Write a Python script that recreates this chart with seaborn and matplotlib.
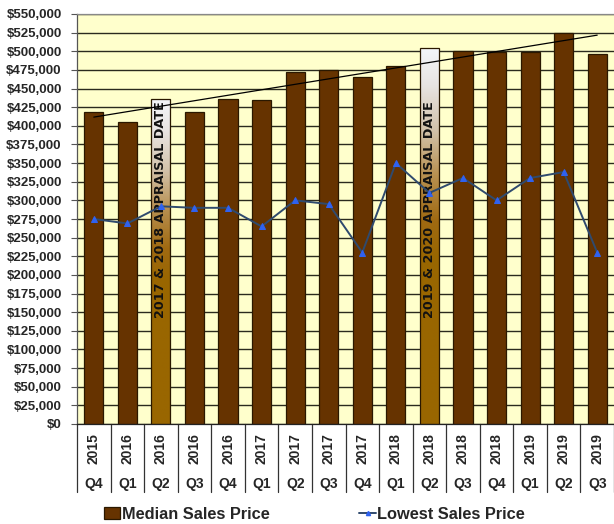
import numpy as np
import pandas as pd
import matplotlib
matplotlib.use("Agg")
import matplotlib.pyplot as plt
import matplotlib.transforms as mtransforms
import seaborn as sns
from matplotlib.patches import Patch
from matplotlib.lines import Line2D
from matplotlib.colors import LinearSegmentedColormap
from matplotlib.ticker import FuncFormatter, MultipleLocator

# Quarterly sales data
years = ["2015", "2016", "2016", "2016", "2016", "2017", "2017", "2017",
         "2017", "2018", "2018", "2018", "2018", "2019", "2019", "2019"]
quarters = ["Q4", "Q1", "Q2", "Q3", "Q4", "Q1", "Q2", "Q3",
            "Q4", "Q1", "Q2", "Q3", "Q4", "Q1", "Q2", "Q3"]
median_price = [418000, 405000, 436000, 418000, 436000, 435000, 472000, 475000,
                466000, 480000, 505000, 500000, 499500, 499000, 525000, 497000]
lowest_price = [275000, 269000, 292000, 290000, 290000, 265000, 300000, 295000,
                230000, 350000, 310000, 330000, 300000, 330000, 338000, 230000]
appraisal_labels = {"Q2 2016": "2017 & 2018 APPRAISAL DATE",
                    "Q2 2018": "2019 & 2020 APPRAISAL DATE"}

periods = [f"{q} {y}" for q, y in zip(quarters, years)]
df = pd.DataFrame({"period": periods, "median": median_price, "lowest": lowest_price})
x_pos = np.arange(len(periods))

BROWN = "#663300"
GOLD = "#996600"
BAR_EDGE = "#2a1800"
LINE_COLOR = "#2f4a6e"
MARKER_COLOR = "#2f62f0"

sns.set_style("white")
plt.rcParams["font.family"] = ["Liberation Sans", "DejaVu Sans"]

fig = plt.figure(figsize=(6.14, 5.24), dpi=100)
ax = fig.add_axes([77 / 614, 100 / 524, 537 / 614, 410 / 524])
ax.set_facecolor("#FFFFCC")

palette = {p: (GOLD if p in appraisal_labels else BROWN) for p in periods}
sns.barplot(data=df, x="period", y="median", hue="period", palette=palette,
            saturation=1, width=0.57, edgecolor=BAR_EDGE, linewidth=0.9,
            legend=False, ax=ax, zorder=2)

# Gradient fill for the appraisal-date quarters
grad = LinearSegmentedColormap.from_list(
    "appraisal",
    [(0.0, "#f4f6fa"), (0.10, "#e8e4e2"), (0.22, "#d2c2aa"),
     (0.34, "#b89050"), (0.46, "#a06a12"), (0.56, GOLD), (1.0, GOLD)])
vtrans = mtransforms.blended_transform_factory(ax.transData, ax.transAxes)
for patch in list(ax.patches):
    idx = int(round(patch.get_x() + patch.get_width() / 2))
    if periods[idx] in appraisal_labels:
        x0, w, h = patch.get_x(), patch.get_width(), patch.get_height()
        img = ax.imshow(np.linspace(0, 1, 256).reshape(-1, 1), cmap=grad,
                        aspect="auto", origin="upper",
                        extent=(x0, x0 + w, 0, h), zorder=2.5)
        img.set_clip_path(patch)
        patch.set_facecolor("none")
        patch.set_zorder(3)
        ax.text(idx, 0.522, appraisal_labels[periods[idx]], transform=vtrans,
                rotation=90, ha="center", va="center", fontsize=9.2,
                family="DejaVu Sans", fontweight="bold", color="#111111",
                zorder=4)

# Linear trend of the median price
coef = np.polyfit(x_pos, median_price, 1)
ends = np.array([x_pos[0], x_pos[-1]])
ax.plot(ends, np.polyval(coef, ends), color="black", lw=0.9, zorder=4)

sns.lineplot(x=x_pos, y=lowest_price, ax=ax, color=LINE_COLOR, lw=1.4,
             marker="^", markersize=5, markerfacecolor=MARKER_COLOR,
             markeredgecolor=MARKER_COLOR, zorder=5)

ax.set_xlim(-0.5, len(periods) - 0.5)
ax.set_ylim(0, 550000)
ax.yaxis.set_major_locator(MultipleLocator(25000))
ax.yaxis.set_major_formatter(FuncFormatter(lambda v, _: f"${v:,.0f}"))
ax.grid(axis="y", color="#2a2a1e", lw=1.0)
ax.set_axisbelow(True)
ax.set_xticks([])
ax.set_xlabel("")
ax.set_ylabel("")
ax.tick_params(axis="y", left=True, length=4, width=0.8, color="#555555",
               pad=7, labelsize=9.5)
for lab in ax.get_yticklabels():
    lab.set_fontweight("bold")

ax.spines["right"].set_visible(False)
ax.spines["top"].set_color("#888888")
ax.spines["left"].set_color("#555555")
ax.spines["bottom"].set_color("#222222")
for s in ("top", "left", "bottom"):
    ax.spines[s].set_linewidth(0.9)

# Two-tier category axis: year (rotated) above quarter
for k in range(len(periods) + 1):
    ax.plot([k - 0.5, k - 0.5], [0, -0.166], transform=vtrans,
            color="#333333", lw=0.9, clip_on=False)
for i in x_pos:
    ax.text(i, -0.061, years[i], transform=vtrans, rotation=90,
            ha="center", va="center", fontsize=10, fontweight="bold")
    ax.text(i, -0.146, quarters[i], transform=vtrans,
            ha="center", va="center", fontsize=10, fontweight="bold")

handles = [Patch(facecolor=BROWN, edgecolor=BAR_EDGE, linewidth=0.9),
           Line2D([0], [0], color=LINE_COLOR, lw=1.4, marker="^", markersize=3,
                  markerfacecolor=MARKER_COLOR, markeredgecolor=MARKER_COLOR)]
fig.legend(handles, ["Median Sales Price", "Lowest Sales Price"],
           loc="center", bbox_to_anchor=(0.512, 0.019), ncol=2, frameon=False,
           prop=dict(family="Liberation Sans", weight="bold", size=11.8),
           handlelength=1.0, handletextpad=0.1, columnspacing=5.5,
           borderpad=0, borderaxespad=0)

fig.savefig("out.png", dpi=100)
